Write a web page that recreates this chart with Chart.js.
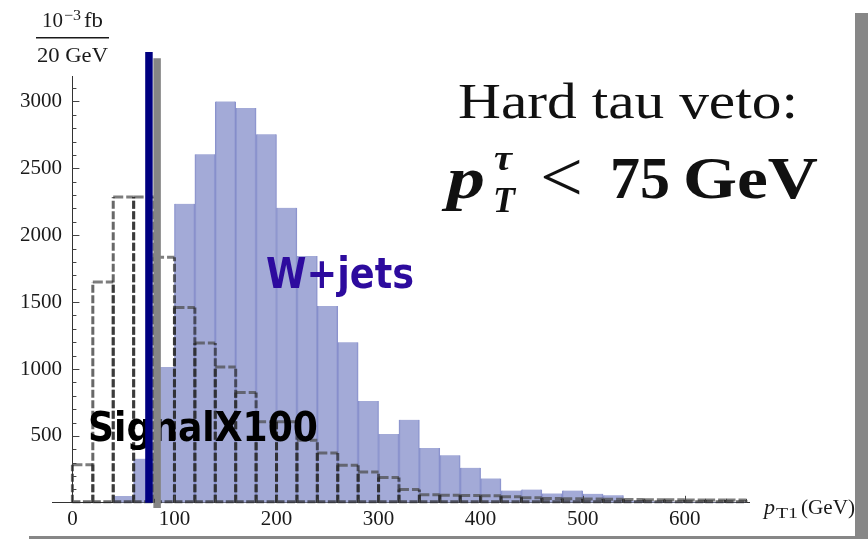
<!DOCTYPE html>
<html>
<head>
<meta charset="utf-8">
<script src="https://cdn.jsdelivr.net/npm/chart.js@4.4.1/dist/chart.umd.min.js"></script>
<style>
  html, body { margin: 0; padding: 0; background: #fff; }
  #frame { position: absolute; left: 29px; top: 13px; width: 839px; height: 526px; background: #878787; }
  #sheet { position: absolute; left: 0; top: 0; width: 855px; height: 536px; background: #fff; }
</style>
</head>
<body>
<div id="frame"></div>
<div id="sheet"><canvas id="chart" width="855" height="536"></canvas></div>
<script>
// 20 GeV bins, lower edges
const binLow = [0, 20, 40, 60, 80, 100, 120, 140, 160, 180, 200, 220, 240, 260, 280, 300, 320,
                340, 360, 380, 400, 420, 440, 460, 480, 500, 520, 540, 560, 580, 600, 620, 640];
// W+jets background (10^-3 fb / 20 GeV)
const wjets = [0, 0, 50, 330, 1015, 2235, 2605, 3000, 2950, 2755, 2205, 1845, 1470, 1200, 760, 515, 620,
               410, 355, 262, 182, 92, 99, 70, 92, 67, 57, 18, 12, 10, 8, 6, 5];
// signal x100, dashed histogram
const signal = [285, 1650, 2285, 2285, 1835, 1460, 1195, 1015, 825, 605, 605, 468, 372, 280, 230, 190, 100,
                60, 57, 55, 52, 45, 38, 33, 30, 28, 26, 24, 22, 22, 20, 20, 20];
const xTicks = [0, 100, 200, 300, 400, 500, 600];
const yTicks = [500, 1000, 1500, 2000, 2500, 3000];
const vetoCut = 75;     // blue line
const secondCut = 83;   // grey line

const serif = "'Liberation Serif', 'Times New Roman', serif";

// stretch text horizontally so it fills a given width
function fitText(ctx, txt, x, y, w, font, color) {
    ctx.save();
    ctx.font = font;
    const m = ctx.measureText(txt).width;
    ctx.translate(x, y);
    ctx.scale(w / m, 1);
    ctx.fillStyle = color;
    ctx.textBaseline = 'alphabetic';
    ctx.textAlign = 'left';
    ctx.fillText(txt, 0, 0);
    ctx.restore();
}

const signalPlugin = {
    id: 'signalDashed',
    afterDatasetDraw(chart, args) {
        if (args.index !== 1) return;
        const ctx = chart.ctx;
        ctx.save();
        ctx.lineWidth = 3;
        // bin tops, lighter grey
        ctx.setLineDash([10, 3]);
        ctx.strokeStyle = 'rgba(75,75,75,0.72)';
        args.meta.data.forEach(el => {
            ctx.beginPath();
            ctx.moveTo(el.x - el.width / 2, el.y);
            ctx.lineTo(el.x + el.width / 2, el.y);
            ctx.stroke();
        });
        // bin sides, darker
        ctx.setLineDash([8, 2.5]);
        ctx.strokeStyle = 'rgba(40,40,40,0.7)';
        args.meta.data.forEach(el => {
            const l = el.x - el.width / 2, r = el.x + el.width / 2;
            ctx.beginPath();
            ctx.moveTo(l, el.base);
            ctx.lineTo(l, el.y);
            ctx.moveTo(r, el.base);
            ctx.lineTo(r, el.y);
            ctx.moveTo(l, el.base - 1);
            ctx.lineTo(r, el.base - 1);
            ctx.stroke();
        });
        ctx.restore();

        // labels sit under the cut lines
        fitText(ctx, 'W+jets', 266, 288, 148, "bold 42px 'DejaVu Sans'", '#2d0b9e');
        fitText(ctx, 'SignalX100', 88, 441, 230, "bold 40px 'DejaVu Sans'", '#000');
    },
    afterDraw(chart) {
        const ctx = chart.ctx;
        const xs = chart.scales.x, ys = chart.scales.y;
        const x0 = xs.getPixelForValue(0), yb = ys.getPixelForValue(0);
        ctx.save();
        ctx.strokeStyle = '#444';
        ctx.lineWidth = 1;
        ctx.beginPath();
        // inward ticks on y axis
        for (let v = 100; v <= 3100; v += 100) {
            const py = Math.round(ys.getPixelForValue(v)) + 0.5;
            ctx.moveTo(x0, py);
            ctx.lineTo(x0 + (v % 500 === 0 ? 7 : 4), py);
        }
        // inward ticks on x axis
        for (let v = 20; v <= 660; v += 20) {
            const px = Math.round(xs.getPixelForValue(v)) + 0.5;
            ctx.moveTo(px, yb);
            ctx.lineTo(px, yb - (v % 100 === 0 ? 7 : 4));
        }
        ctx.stroke();

        // y unit: 10^-3 fb / 20 GeV
        ctx.fillStyle = '#1a1a1a';
        fitText(ctx, '10', 42, 27, 21, '22px ' + serif, '#1a1a1a');
        fitText(ctx, '\u22123', 64, 20, 17, '15px ' + serif, '#1a1a1a');
        fitText(ctx, 'fb', 84, 27, 19, '22px ' + serif, '#1a1a1a');
        ctx.fillRect(36, 37, 73, 1.5);
        fitText(ctx, '20 GeV', 37, 62, 71, '22px ' + serif, '#1a1a1a');

        // x title
        fitText(ctx, 'p', 764, 514, 11, 'italic 22px ' + serif, '#1a1a1a');
        fitText(ctx, 'T1', 776, 518, 22, '14px ' + serif, '#1a1a1a');
        fitText(ctx, '(GeV)', 801, 514, 54, '22px ' + serif, '#1a1a1a');

        // annotation
        fitText(ctx, 'Hard tau veto:', 458, 118, 340, '50px ' + serif, '#111');
        fitText(ctx, 'p', 447, 198, 38, 'bold italic 60px ' + serif, '#111');
        fitText(ctx, '\u03C4', 494, 170, 18, 'bold italic 36px ' + serif, '#111');
        fitText(ctx, 'T', 493, 212, 22, 'bold italic 36px ' + serif, '#111');
        fitText(ctx, '<', 540, 201, 43, '72px ' + serif, '#111');
        fitText(ctx, '75', 610, 198, 60, 'bold 59px ' + serif, '#111');
        fitText(ctx, 'GeV', 683, 198, 135, 'bold 59px ' + serif, '#111');
        ctx.restore();
    }
};

new Chart(document.getElementById('chart'), {
    data: {
        datasets: [
            {
                type: 'bar',
                label: 'W+jets',
                data: binLow.map((lo, i) => ({ x: lo + 10, y: wjets[i] })),
                backgroundColor: 'rgba(150,158,210,0.88)',
                borderColor: 'rgba(125,134,200,0.9)',
                borderWidth: { left: 1, right: 1, top: 0, bottom: 0 },
                barPercentage: 1,
                categoryPercentage: 1,
                order: 4
            },
            {
                type: 'bar',
                label: 'Signal x100',
                data: binLow.map((lo, i) => ({ x: lo + 10, y: signal[i] })),
                backgroundColor: 'rgba(0,0,0,0)',
                borderWidth: 0,
                barPercentage: 1,
                categoryPercentage: 1,
                order: 3
            },
            {
                type: 'line',
                data: [{ x: vetoCut, y: 0 }, { x: vetoCut, y: 3370 }],
                borderColor: '#000080',
                borderWidth: 7.5,
                borderCapStyle: 'butt',
                pointRadius: 0,
                clip: false,
                order: 2
            },
            {
                type: 'line',
                data: [{ x: secondCut, y: -38 }, { x: secondCut, y: 3322 }],
                borderColor: '#858585',
                borderWidth: 7.5,
                borderCapStyle: 'butt',
                pointRadius: 0,
                clip: false,
                order: 1
            }
        ]
    },
    plugins: [signalPlugin],
    options: {
        responsive: false,
        animation: false,
        grouped: false,
        layout: { padding: { top: 76, left: 52, right: 106, bottom: 0 } },
        plugins: { legend: { display: false }, tooltip: { enabled: false } },
        scales: {
            x: {
                type: 'linear',
                position: 'bottom',
                offset: false,
                min: -20,
                max: 663,
                afterBuildTicks: s => { s.ticks = xTicks.map(v => ({ value: v })); },
                grid: { display: true, drawOnChartArea: false, drawTicks: false, offset: false },
                border: { color: '#333', width: 1 },
                ticks: { padding: 4, color: '#1a1a1a', font: { family: serif, size: 21 } }
            },
            y: {
                type: 'linear',
                position: { x: 0 },
                min: 0,
                max: 3190,
                afterBuildTicks: s => { s.ticks = yTicks.map(v => ({ value: v })); },
                grid: { display: true, drawOnChartArea: false, drawTicks: false },
                border: { color: '#333', width: 1 },
                ticks: {
                    padding: 7,
                    color: '#1a1a1a',
                    font: { family: serif, size: 21 },
                    callback: v => String(v) + '  '
                }
            }
        }
    }
});
</script>
</body>
</html>
